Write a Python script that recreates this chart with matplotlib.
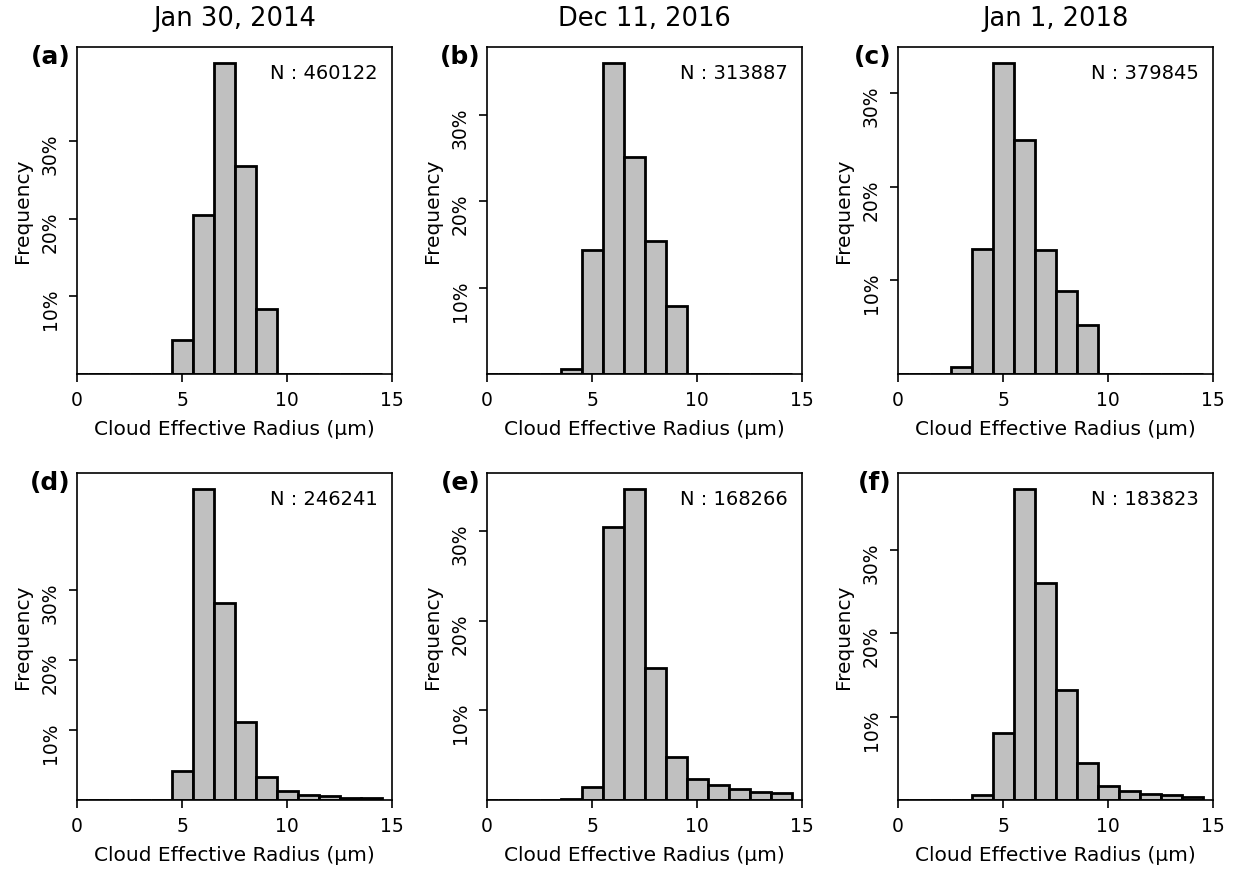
import matplotlib
matplotlib.use("Agg")
import matplotlib.pyplot as plt
from matplotlib.ticker import PercentFormatter

# bin centres (um), bins are 1 um wide
radius_bins = [0, 1, 2, 3, 4, 5, 6, 7, 8, 9, 10, 11, 12, 13, 14]

# frequency per bin (%)
freq_a = [0, 0, 0, 0, 0, 4.4, 20.5, 40.1, 26.8, 8.4, 0, 0, 0, 0, 0]
freq_b = [0, 0, 0, 0, 0.55, 14.4, 36.1, 25.2, 15.4, 7.9, 0, 0, 0, 0, 0]
freq_c = [0, 0, 0, 0.75, 13.4, 33.3, 25.0, 13.3, 8.9, 5.2, 0, 0, 0, 0, 0]
freq_d = [0, 0, 0, 0, 0, 4.1, 44.5, 28.1, 11.1, 3.35, 1.3, 0.67, 0.52, 0.33, 0.33]
freq_e = [0, 0, 0, 0, 0.07, 1.4, 30.4, 34.7, 14.7, 4.8, 2.35, 1.65, 1.23, 0.9, 0.78]
freq_f = [0, 0, 0, 0, 0.56, 8.0, 37.4, 26.0, 13.2, 4.4, 1.72, 1.08, 0.72, 0.56, 0.4]

panel_freqs = [freq_a, freq_b, freq_c, freq_d, freq_e, freq_f]
panel_labels = ["(a)", "(b)", "(c)", "(d)", "(e)", "(f)"]
sample_sizes = [460122, 313887, 379845, 246241, 168266, 183823]
dates = ["Jan 30, 2014", "Dec 11, 2016", "Jan 1, 2018"]

fig = plt.figure(figsize=(12.35, 8.71), dpi=100)
W, H = 1235, 871
lefts = [77, 487, 898]
tops = [47, 473]
ax_w, ax_h = 315, 327

for i, freqs in enumerate(panel_freqs):
    row, col = divmod(i, 3)
    ax = fig.add_axes([lefts[col] / W, 1 - (tops[row] + ax_h) / H, ax_w / W, ax_h / H])
    ax.bar(radius_bins, freqs, width=1.0, color="silver",
           edgecolor="black", linewidth=2)
    ax.set_xlim(0, 15)
    ax.set_xticks([0, 5, 10, 15])
    ax.set_yticks([10, 20, 30])
    ax.yaxis.set_major_formatter(PercentFormatter(decimals=0))
    ax.tick_params(labelsize=13.5, width=1.2, length=5.5)
    ax.tick_params(axis="x", pad=7)
    ax.tick_params(axis="y", pad=7)
    for lab in ax.get_yticklabels():
        lab.set_rotation(90)
    for sp in ax.spines.values():
        sp.set_linewidth(1.2)
    ax.set_xlabel("Cloud Effective Radius (μm)", fontsize=14.5, labelpad=7)
    ax.set_ylabel("Frequency", fontsize=14.5, labelpad=6)
    ax.text(0.955, 0.92, f"N : {sample_sizes[i]}", transform=ax.transAxes,
            ha="right", va="center", fontsize=14)
    ax.text(-0.02, 0.97, panel_labels[i], transform=ax.transAxes,
            ha="right", va="center", fontsize=18, fontweight="bold")
    if row == 0:
        ax.set_title(dates[col], fontsize=18.5, pad=15)

fig.savefig("out.png", dpi=100)
